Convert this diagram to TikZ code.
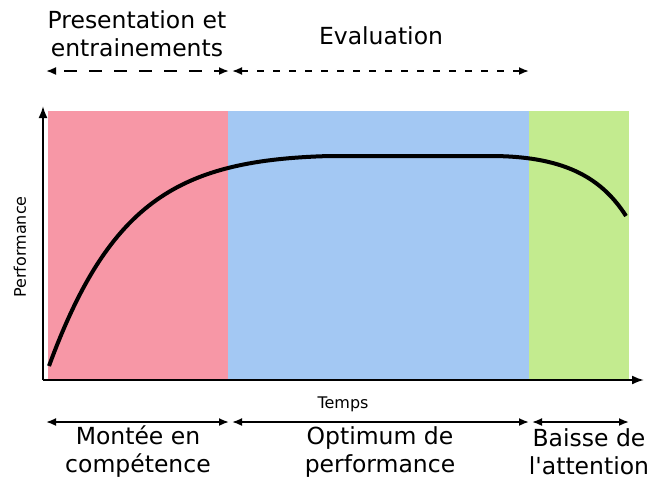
\documentclass[tikz,border=0pt]{standalone}
\usepackage{fontspec}
\setmainfont{DejaVu Sans}
\usetikzlibrary{arrows.meta}
\definecolor{phaseRose}{HTML}{F797A6}
\definecolor{phaseBleu}{HTML}{A3C8F3}
\definecolor{phaseVert}{HTML}{C3EB8F}
\tikzset{
	fleche/.style={line width=1.8pt, {Latex[length=10pt,width=8pt]}-{Latex[length=10pt,width=8pt]}},
	flechelong/.style={fleche, dash pattern=on 13pt off 12pt, dash phase=-9pt},
	flechecourt/.style={fleche, dash pattern=on 7pt off 9pt},
	grandtexte/.style={font=\fontsize{23.5}{28}\selectfont, align=center},
	petittexte/.style={font=\fontsize{16}{18}\selectfont}
}
\begin{document}
\begin{tikzpicture}[x=1pt, y=-1pt]
	\useasboundingbox (0,0) rectangle (650,483);
	
	% Phases en fond
	\fill[phaseRose] (48,111) rectangle (228,379);
	\fill[phaseBleu] (228,111) rectangle (529,379);
	\fill[phaseVert] (529,111) rectangle (629,379);
	
	% Axes
	\coordinate (origine) at (43,380);
	\coordinate (haut) at (43,106);
	\coordinate (droite) at (644,380);
	\draw[line width=2pt, -{Latex[length=12pt,width=9pt]}] (origine) -- (haut);
	\draw[line width=2pt, -{Latex[length=12pt,width=9pt]}] (origine) -- (droite);
	\node[petittexte, rotate=90] (perf) at (20,247) {Performance};
	\node[petittexte] (temps) at (343,404) {Temps};
	
	% Courbe de performance
	\draw[line width=4pt] (49,366) .. controls (110,200) and (180,160) .. (330,156)
		-- (490,156) .. controls (560,156) and (600,175) .. (626,216);
	
	% Phases du haut (pointilles)
	\coordinate (h0) at (46,71);
	\coordinate (h1) at (229,71);
	\coordinate (h1b) at (232,71);
	\coordinate (h2) at (529,71);
	\draw[flechelong] (h0) -- (h1);
	\draw[flechecourt] (h1b) -- (h2);
	\node[grandtexte] (presentation) at (137,34) {Presentation et\\entrainements};
	\node[grandtexte] (evaluation) at (381,36) {Evaluation};
	
	% Phases du bas
	\coordinate (b0) at (46,422);
	\coordinate (b1) at (229,422);
	\coordinate (b1b) at (232,422);
	\coordinate (b2) at (529,422);
	\coordinate (b2b) at (532,422);
	\coordinate (b3) at (629,422);
	\draw[fleche] (b0) -- (b1);
	\draw[fleche] (b1b) -- (b2);
	\draw[fleche] (b2b) -- (b3);
	\node[grandtexte] (montee) at (138,452) {Montée en\\compétence};
	\node[grandtexte] (optimum) at (380,452) {Optimum de\\performance};
	\node[grandtexte] (baisse) at (589,452) {Baisse de\\l\textquotesingle attention};
\end{tikzpicture}
\end{document}
